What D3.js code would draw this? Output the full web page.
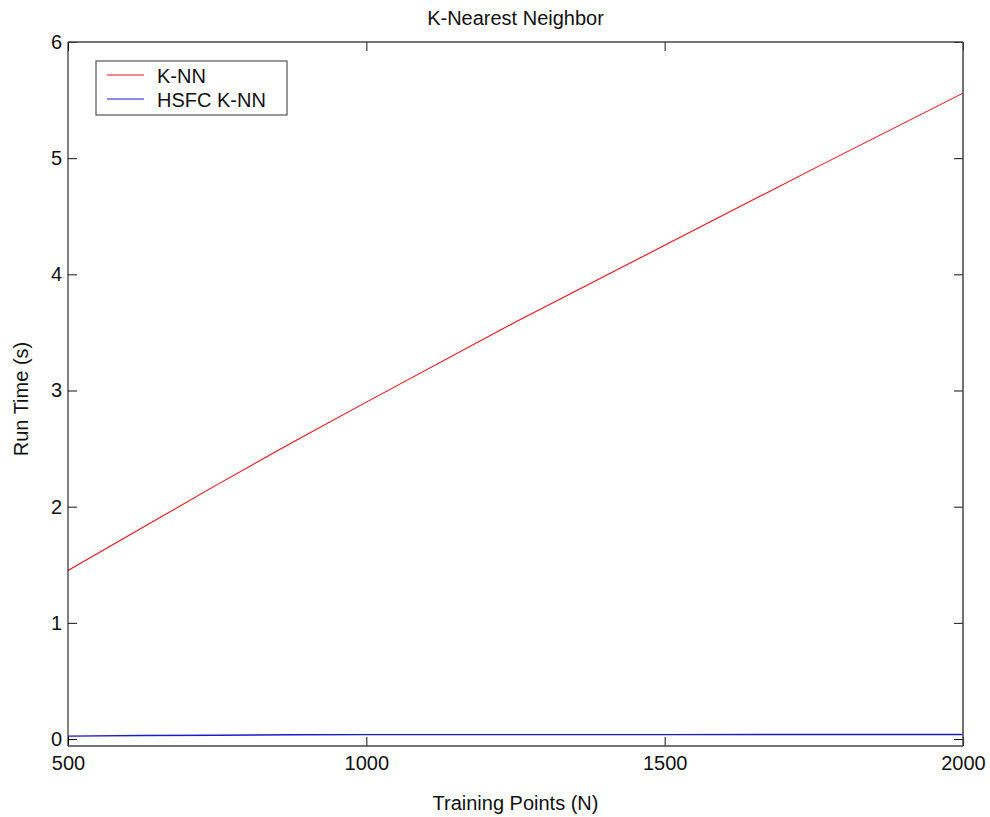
<!DOCTYPE html>
<html>
<head>
<meta charset="utf-8">
<script src="https://cdn.jsdelivr.net/npm/d3@7"></script>
<style>
  html, body { margin: 0; padding: 0; background: #fff; }
  svg { display: block; font-family: "Liberation Sans", Arial, sans-serif; }
</style>
</head>
<body>
<svg id="chart" width="990" height="817"></svg>
<script>
// Training set sizes (N)
const trainingPoints = [500, 625, 750, 875, 1000, 1250, 1500, 1750, 2000];
// Run time of plain K-NN (seconds)
const knnTime = [1.45, 1.82, 2.19, 2.55, 2.90, 3.59, 4.25, 4.91, 5.56];
// Run time of HSFC K-NN (seconds)
const hsfcTime = [0.025, 0.031, 0.032, 0.037, 0.038, 0.038, 0.038, 0.039, 0.039];

const xTicks = [500, 1000, 1500, 2000];
const yTicks = [0, 1, 2, 3, 4, 5, 6];

const seriesNames = ["K-NN", "HSFC K-NN"];
const seriesColors = ["#e8101a", "#1a1ad0"];

const margin = { left: 68, top: 42, right: 27, bottom: 71 };
const W = 990, H = 817;
const x0 = margin.left, x1 = W - margin.right;
const y0 = H - margin.bottom, y1 = margin.top;

const svg = d3.select("#chart");

const x = d3.scaleLinear().domain([500, 2000]).range([x0, x1]);
const y = d3.scaleLinear().domain([-0.06, 6]).range([y0, y1]);

// Lines
const line = d3.line().x(d => x(d[0])).y(d => y(d[1]));
const series = [knnTime, hsfcTime];
series.forEach((vals, i) => {
  svg.append("path")
    .datum(trainingPoints.map((n, j) => [n, vals[j]]))
    .attr("d", line)
    .attr("fill", "none")
    .attr("stroke", seriesColors[i])
    .attr("stroke-width", i === 1 ? 1.4 : 1.1);
});

// Axes with inward ticks on all four sides
const tickLen = 9;
const fontSize = 20;
const fmt = d3.format("d");

const axisBottomG = svg.append("g").attr("transform", `translate(0,${y0})`)
  .call(d3.axisBottom(x).tickValues(xTicks).tickFormat(fmt).tickSizeInner(-tickLen).tickSizeOuter(0).tickPadding(10));
const axisTopG = svg.append("g").attr("transform", `translate(0,${y1})`)
  .call(d3.axisTop(x).tickValues(xTicks).tickSizeInner(-tickLen).tickSizeOuter(0).tickFormat(""));
const axisLeftG = svg.append("g").attr("transform", `translate(${x0},0)`)
  .call(d3.axisLeft(y).tickValues(yTicks).tickFormat(fmt).tickSizeInner(-tickLen).tickSizeOuter(0).tickPadding(6));
const axisRightG = svg.append("g").attr("transform", `translate(${x1},0)`)
  .call(d3.axisRight(y).tickValues(yTicks).tickSizeInner(-tickLen).tickSizeOuter(0).tickFormat(""));

[axisBottomG, axisTopG, axisLeftG, axisRightG].forEach(g => {
  g.selectAll(".domain").remove();
  g.selectAll(".tick line").attr("stroke", "#111").attr("stroke-width", 1);
  g.selectAll(".tick text")
    .attr("fill", "#111")
    .style("font-size", fontSize + "px")
    .style("font-family", "'Liberation Sans', Arial, sans-serif");
});

// Box frame
svg.append("line").attr("x1", x0).attr("x2", x0).attr("y1", y1).attr("y2", y0).attr("stroke", "#000");
svg.append("line").attr("x1", x0).attr("x2", x1).attr("y1", y0).attr("y2", y0).attr("stroke", "#444").attr("stroke-width", 1.5);
svg.append("line").attr("x1", x0).attr("x2", x1).attr("y1", y1).attr("y2", y1).attr("stroke", "#444").attr("stroke-width", 1.5);
svg.append("line").attr("x1", x1).attr("x2", x1).attr("y1", y1).attr("y2", y0).attr("stroke", "#444").attr("stroke-width", 1.5);

// Title and axis labels
svg.append("text")
  .attr("x", (x0 + x1) / 2).attr("y", 25)
  .attr("text-anchor", "middle")
  .style("font-size", "20px")
  .attr("fill", "#111")
  .text("K-Nearest Neighbor");

svg.append("text")
  .attr("x", (x0 + x1) / 2).attr("y", 810)
  .attr("text-anchor", "middle")
  .style("font-size", "20px")
  .attr("fill", "#111")
  .text("Training Points (N)");

svg.append("text")
  .attr("transform", `translate(28,${(y0 + y1) / 2 + 5}) rotate(-90)`)
  .attr("text-anchor", "middle")
  .style("font-size", "20px")
  .attr("fill", "#111")
  .text("Run Time (s)");

// Legend
const legend = svg.append("g").attr("transform", "translate(96,61)");
legend.append("rect")
  .attr("width", 191).attr("height", 54)
  .attr("fill", "#fff").attr("stroke", "#333").attr("stroke-width", 1);
seriesNames.forEach((name, i) => {
  const ly = 14 + i * 24;
  legend.append("line")
    .attr("x1", 11).attr("x2", 48).attr("y1", ly).attr("y2", ly)
    .attr("stroke", seriesColors[i]).attr("stroke-width", 1.2);
  legend.append("text")
    .attr("x", 61).attr("y", ly + 8)
    .style("font-size", "20px")
    .attr("fill", "#111")
    .text(name);
});
</script>
</body>
</html>
